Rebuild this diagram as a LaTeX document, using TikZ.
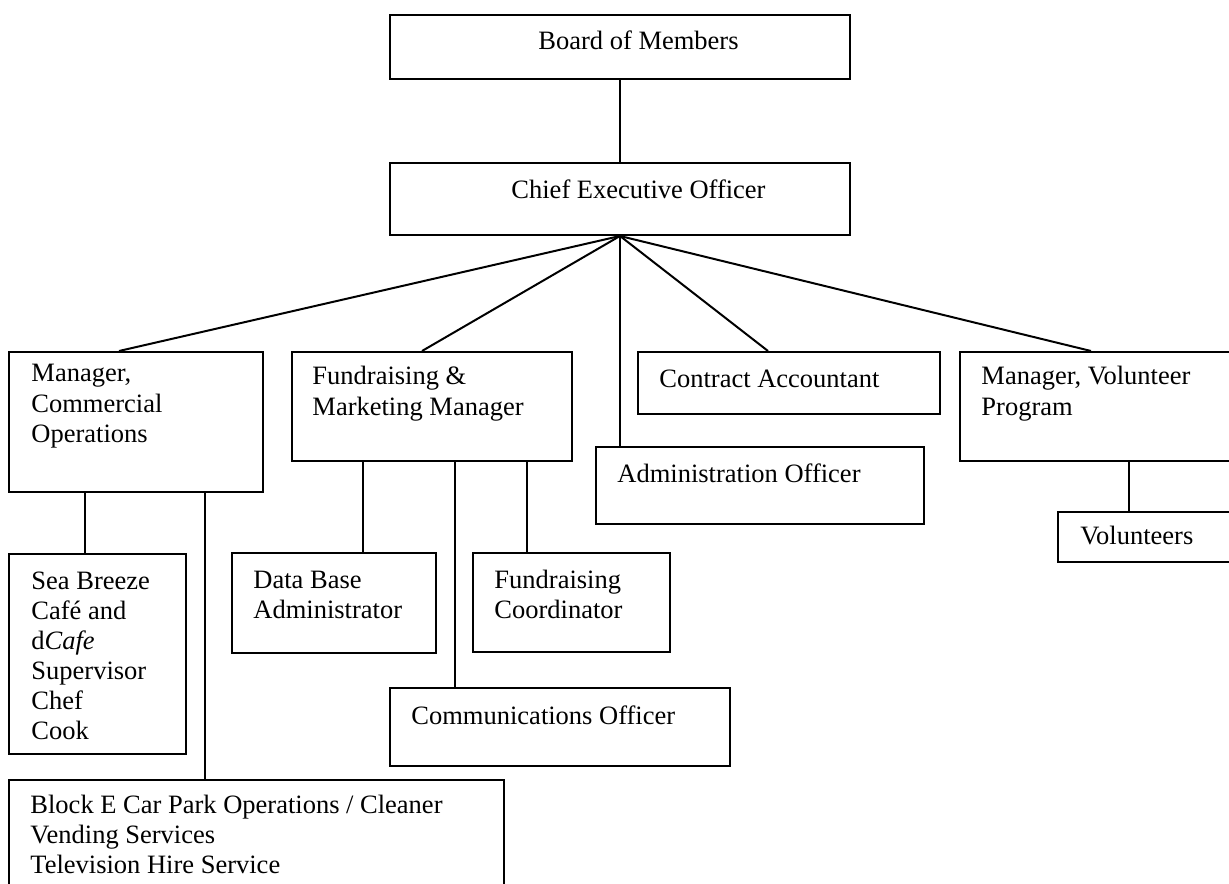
\documentclass[tikz,border=0pt]{standalone}
\usepackage{fontspec}
\setmainfont{Liberation Serif}
\usetikzlibrary{fit,calc}
\newcommand\ml[1]{\begin{tabular}[t]{@{}l@{}}#1\end{tabular}}
\begin{document}
\begin{tikzpicture}[x=0.45283pt,y=-0.45283pt,
  box/.style={draw=black,line width=0.9pt,inner sep=0pt,rectangle},
  txt/.style={inner sep=0pt,anchor=base west,font=\fontsize{12}{13.6}\selectfont},
  link/.style={draw=black,line width=0.9pt}]
\useasboundingbox (0,0) rectangle (1229,884);
% boxes
\node[box,fit={(390,15) (850,79)}] (board) {};
\node[box,fit={(390,163) (850,235)}] (ceo) {};
\node[box,fit={(9,352) (263,492)}] (mgr) {};
\node[box,fit={(292,352) (572,461)}] (fund) {};
\node[box,fit={(638,352) (940,414)}] (acct) {};
\node[box,fit={(596,447) (924,524)}] (admin) {};
\node[box,fit={(960,352) (1245,461)}] (vol) {};
\node[box,fit={(1058,512) (1245,562)}] (volunteers) {};
\node[box,fit={(9,554) (186,754)}] (sea) {};
\node[box,fit={(232,553) (436,653)}] (db) {};
\node[box,fit={(473,553) (670,652)}] (coord) {};
\node[box,fit={(390,688) (730,766)}] (comms) {};
\node[box,fit={(9,780) (504,900)}] (blocke) {};
% texts
\node[txt] (boardT) at (538,50) {Board of Members};
\node[txt] (ceoT) at (511,199) {Chief Executive Officer};
\node[txt] (mgrT) at (31,382) {\ml{Manager,\\Commercial\\Operations}};
\node[txt] (fundT) at (312,385) {\ml{Fundraising \&\\Marketing Manager}};
\node[txt] (acctT) at (659,387) {Contract Accountant};
\node[txt] (adminT) at (617,482) {Administration Officer};
\node[txt] (volT) at (981,385) {\ml{Manager, Volunteer\\Program}};
\node[txt] (volunteersT) at (1080,545) {Volunteers};
\node[txt] (seaT) at (31,589) {\ml{Sea Breeze\\Café and\\d\textit{Cafe}\\Supervisor\\Chef\\Cook}};
\node[txt] (dbT) at (253,588) {\ml{Data Base\\Administrator}};
\node[txt] (coordT) at (494,588) {\ml{Fundraising\\Coordinator}};
\node[txt] (commsT) at (411,724) {Communications Officer};
\node[txt] (blockeT) at (30,813) {\ml{Block E Car Park Operations / Cleaner\\Vending Services\\Television Hire Service}};
% connectors
\draw[link] (board.south) -- (ceo.north);
\draw[link] (ceo.south) -- ($(mgr.north west)+(111,0)$);
\draw[link] (ceo.south) -- ($(fund.north west)+(131,0)$);
\draw[link] (ceo.south) -- (ceo.south |- admin.north);
\draw[link] (ceo.south) -- ($(acct.north west)+(131,0)$);
\draw[link] (ceo.south) -- ($(vol.north west)+(132,0)$);
\draw[link] ($(mgr.south west)+(77,0)$) -- ($(sea.north west)+(77,0)$);
\draw[link] ($(mgr.south west)+(197,0)$) -- ($(blocke.north west)+(197,0)$);
\draw[link] ($(fund.south west)+(72,0)$) -- ($(db.north west)+(132,0)$);
\draw[link] ($(fund.south west)+(164,0)$) -- ($(comms.north west)+(66,0)$);
\draw[link] ($(fund.south west)+(236,0)$) -- ($(coord.north west)+(55,0)$);
\draw[link] ($(vol.south west)+(170,0)$) -- ($(volunteers.north west)+(72,0)$);
\end{tikzpicture}
\end{document}
